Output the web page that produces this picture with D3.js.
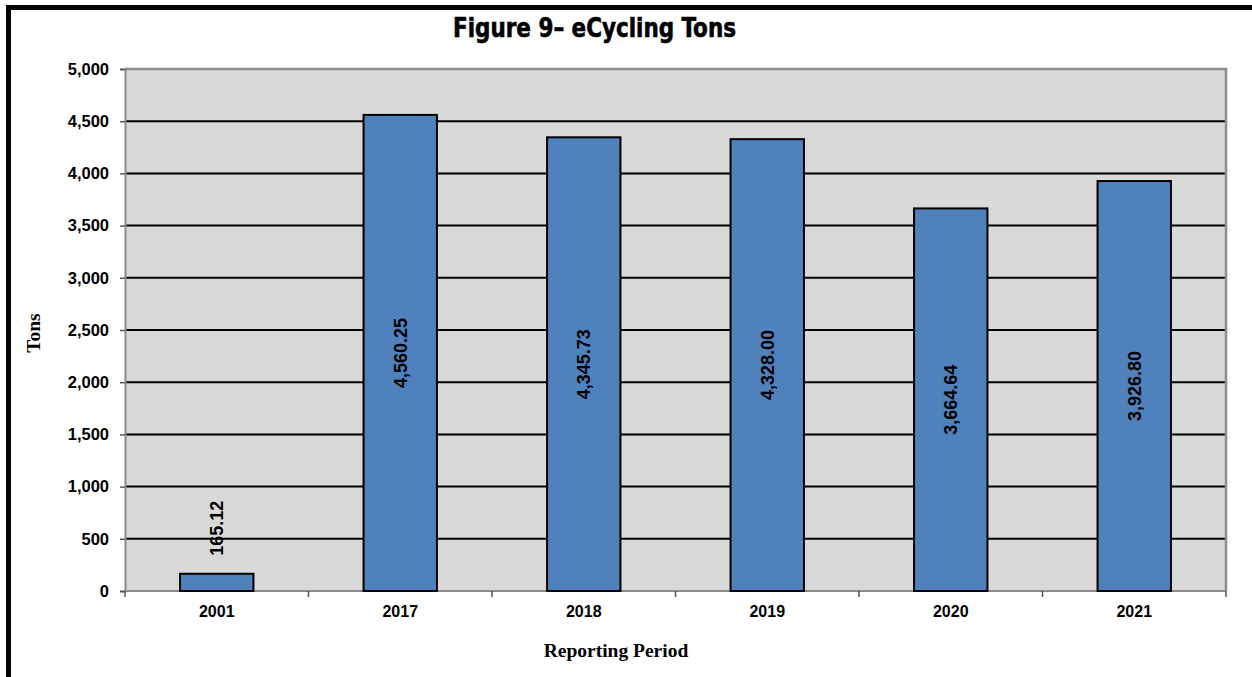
<!DOCTYPE html>
<html>
<head>
<meta charset="utf-8">
<script src="https://cdn.jsdelivr.net/npm/d3@7"></script>
<style>
  html, body { margin: 0; padding: 0; background: #fff; }
  svg { display: block; }
</style>
</head>
<body>
<svg id="chart" width="1252" height="677"></svg>
<script>
const categories = ["2001", "2017", "2018", "2019", "2020", "2021"];
const values = [165.12, 4560.25, 4345.73, 4328.00, 3664.64, 3926.80];
const valueLabels = ["165.12", "4,560.25", "4,345.73", "4,328.00", "3,664.64", "3,926.80"];
const yTicks = [0, 500, 1000, 1500, 2000, 2500, 3000, 3500, 4000, 4500, 5000];
const titleText = "Figure 9\u2013 eCycling Tons";
const yTitle = "Tons";
const xTitle = "Reporting Period";

const W = 1252, H = 677;
const plot = { left: 125, right: 1226, top: 69, bottom: 591 };

const svg = d3.select("#chart");

// outer frame (top & left visible)
svg.append("path")
  .attr("d", `M8.5,${H} V7.5 H${W}`)
  .attr("fill", "none")
  .attr("stroke", "#000")
  .attr("stroke-width", 5);

const x = d3.scaleBand()
  .domain(categories)
  .range([plot.left, plot.right])
  .paddingInner(0.6)
  .paddingOuter(0.3);

const y = d3.scaleLinear()
  .domain([0, 5000])
  .range([plot.bottom, plot.top]);

// plot background
svg.append("rect")
  .attr("x", plot.left).attr("y", plot.top)
  .attr("width", plot.right - plot.left)
  .attr("height", plot.bottom - plot.top)
  .attr("fill", "#d9d9d9");

// gridlines
svg.append("g")
  .selectAll("line")
  .data(yTicks.filter(d => d > 0 && d < 5000))
  .join("line")
  .attr("x1", plot.left).attr("x2", plot.right)
  .attr("y1", d => y(d)).attr("y2", d => y(d))
  .attr("stroke", "#000")
  .attr("stroke-width", 2);

// plot border (top/right)
svg.append("path")
  .attr("d", `M${plot.left},${plot.top} H${plot.right} V${plot.bottom}`)
  .attr("fill", "none")
  .attr("stroke", "#8c8c8c")
  .attr("stroke-width", 2.5);

// y axis
const yAxis = svg.append("g")
  .attr("transform", `translate(${plot.left},0)`)
  .call(d3.axisLeft(y).tickValues(yTicks).tickSize(5).tickPadding(11)
    .tickFormat(d3.format(",")));
yAxis.select(".domain").attr("stroke", "#8c8c8c").attr("stroke-width", 2);
yAxis.selectAll(".tick line").attr("stroke", "#555").attr("stroke-width", 1.5);
yAxis.selectAll(".tick text")
  .attr("font-family", "Liberation Sans, Arial, sans-serif")
  .attr("font-weight", "bold")
  .attr("font-size", 16.5)
  .attr("fill", "#000");

// x axis with ticks at category boundaries
const boundaries = d3.range(categories.length + 1).map(i => plot.left + i * x.step());
svg.append("line")
  .attr("x1", plot.left).attr("x2", plot.right)
  .attr("y1", plot.bottom).attr("y2", plot.bottom)
  .attr("stroke", "#8c8c8c").attr("stroke-width", 2);
svg.append("g").selectAll("line")
  .data(boundaries)
  .join("line")
  .attr("x1", d => d).attr("x2", d => d)
  .attr("y1", plot.bottom).attr("y2", plot.bottom + 6)
  .attr("stroke", "#555").attr("stroke-width", 1.5);
svg.append("g").selectAll("text")
  .data(categories)
  .join("text")
  .attr("x", d => x(d) + x.bandwidth() / 2)
  .attr("y", 617)
  .attr("text-anchor", "middle")
  .attr("font-family", "Liberation Sans, Arial, sans-serif")
  .attr("font-weight", "bold")
  .attr("font-size", 16)
  .text(d => d);

// bars
svg.append("g").selectAll("rect")
  .data(categories)
  .join("rect")
  .attr("x", d => x(d))
  .attr("y", (d, i) => y(values[i]))
  .attr("width", x.bandwidth())
  .attr("height", (d, i) => y(0) - y(values[i]))
  .attr("fill", "#4f81bd")
  .attr("stroke", "#000")
  .attr("stroke-width", 2);

// value labels
svg.append("g").selectAll("text")
  .data(categories)
  .join("text")
  .each(function (d, i) {
    const cx = x(d) + x.bandwidth() / 2;
    const v = values[i];
    const inside = v > 1000;
    const cy = inside ? (y(v) + y(0)) / 2 : y(v) - 18;
    d3.select(this)
      .attr("transform", `translate(${cx},${cy}) rotate(-90)`)
      .attr("text-anchor", inside ? "middle" : "start")
      .attr("dy", "0.36em");
  })
  .attr("font-family", "Liberation Sans, Arial, sans-serif")
  .attr("font-weight", "bold")
  .attr("font-size", 18)
  .attr("fill", "#000")
  .text((d, i) => valueLabels[i]);

// title
svg.append("text")
  .attr("x", 453).attr("y", 37)
  .attr("textLength", 283)
  .attr("lengthAdjust", "spacingAndGlyphs")
  .attr("font-family", "Liberation Sans Narrow, DejaVu Sans Condensed, Arial Narrow, sans-serif")
  .attr("font-weight", "bold")
  .attr("font-size", 27)
  .attr("stroke", "#000")
  .attr("stroke-width", 0.6)
  .text(titleText);

// axis titles
svg.append("text")
  .attr("transform", `translate(40,333) rotate(-90)`)
  .attr("text-anchor", "middle")
  .attr("font-family", "Liberation Serif, Times New Roman, serif")
  .attr("font-weight", "bold")
  .attr("font-size", 19.5)
  .text(yTitle);

svg.append("text")
  .attr("x", 616).attr("y", 657)
  .attr("text-anchor", "middle")
  .attr("font-family", "Liberation Serif, Times New Roman, serif")
  .attr("font-weight", "bold")
  .attr("font-size", 19.5)
  .text(xTitle);
</script>
</body>
</html>
